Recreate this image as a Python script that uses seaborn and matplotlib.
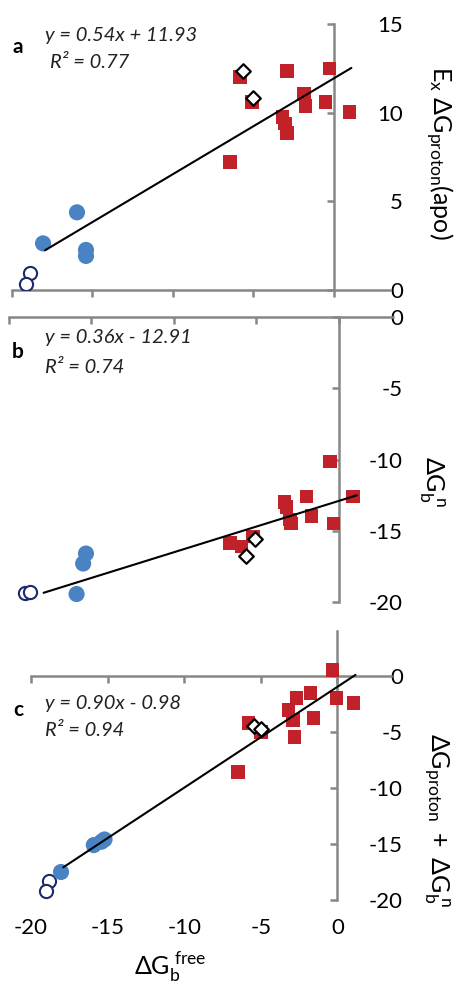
import matplotlib
matplotlib.use("Agg")
import matplotlib.pyplot as plt
import seaborn as sns
import numpy as np

sns.set_theme(style="white")
plt.rcParams["font.family"] = ["Lato", "DejaVu Sans"]
plt.rcParams["axes.unicode_minus"] = False
plt.rcParams["mathtext.fontset"] = "custom"
plt.rcParams["mathtext.rm"] = "Lato"
plt.rcParams["mathtext.it"] = "Lato:italic"
plt.rcParams["mathtext.bf"] = "Lato:bold"
plt.rcParams["mathtext.fallback"] = "stixsans"
plt.rcParams["text.color"] = "black"

RED = "#c1222a"
BLUE = "#4a83c3"
NAVY = "#1c2a6c"
AXIS = "#878787"

# ---------------- data ----------------
X_TICKS = [-20, -15, -10, -5, 0]

# panel a
a_red_x = [-6.46, -5.84, -5.09, -2.92, -3.17, -3.04, -2.92, -1.86, -1.74, -0.50, -0.25, 0.99]
a_red_y = [7.22, 12.0, 10.6, 12.35, 9.76, 9.4, 8.86, 11.05, 10.38, 10.6, 12.5, 10.04]
a_dia_x = [-5.65, -5.03]
a_dia_y = [12.35, 10.8]
a_blue_x = [-18.07, -15.96, -15.4, -15.4]
a_blue_y = [2.63, 4.38, 2.26, 1.92]
a_open_x = [-18.9, -19.1]
a_open_y = [0.97, 0.33]
a_fit = (0.54, 11.93)
a_fit_range = [-17.95, 1.1]
a_yticks = [0, 5, 10, 15]
a_eq = ["y = 0.54x + 11.93", "R² = 0.77"]

# panel b
b_red_x = [-0.52, 0.88, -1.94, -3.27, -3.15, -1.64, -2.95, -2.88, -0.30, -6.6, -5.9, -5.2]
b_red_y = [-10.15, -12.6, -12.6, -13.0, -13.35, -13.98, -14.2, -14.5, -14.5, -15.85, -16.1, -15.4]
b_dia_x = [-5.09, -5.64]
b_dia_y = [-15.6, -16.8]
b_blue_x = [-15.33, -15.5, -15.9]
b_blue_y = [-16.6, -17.3, -19.44]
b_open_x = [-19.0, -18.7]
b_open_y = [-19.4, -19.3]
b_fit = (0.36, -12.91)
b_fit_range = [-17.9, 1.1]
b_yticks = [0, -5, -10, -15, -20]
b_eq = ["y = 0.36x - 12.91", "R² = 0.74"]

# panel c
c_red_x = [-0.33, -0.07, 1.05, -1.76, -2.68, -3.2, -2.9, -1.57, -2.81, -6.47, -5.8, -4.97]
c_red_y = [0.54, -1.96, -2.41, -1.52, -1.96, -3.04, -3.93, -3.75, -5.45, -8.6, -4.2, -4.99]
c_dia_x = [-5.44, -4.97]
c_dia_y = [-4.46, -4.73]
c_blue_x = [-18.04, -15.9, -15.4, -15.2]
c_blue_y = [-17.5, -15.1, -14.8, -14.6]
c_open_x = [-18.8, -19.0]
c_open_y = [-18.3, -19.2]
c_fit = (0.90, -0.98)
c_fit_range = [-17.9, 1.18]
c_yticks = [0, -5, -10, -15, -20]
c_eq = ["y = 0.90x - 0.98", "R² = 0.94"]

W, H = 460, 984
fig = plt.figure(figsize=(W / 100, H / 100), dpi=100)


def add_axes_px(l, r, t, b):
    return fig.add_axes([l / W, 1 - b / H, (r - l) / W, (b - t) / H])


panels = [
    dict(box=(12, 390, 24, 290), xlim=(-20, 3.5), ylim=(0, 15),
         red=(a_red_x, a_red_y), dia=(a_dia_x, a_dia_y), blue=(a_blue_x, a_blue_y),
         open=(a_open_x, a_open_y), fit=a_fit, fr=a_fit_range, yt=a_yticks,
         eq=a_eq, letter="a", lpos=(18, 47), e1=(45, 35), e2=(50, 62),
         ylab=r"$\mathrm{E_x\ \Delta G_{proton}(apo)}$", ylpos=(439, 153), xlab=False),
    dict(box=(9, 393, 317, 602), xlim=(-20, 3.3), ylim=(-20, 0),
         red=(b_red_x, b_red_y), dia=(b_dia_x, b_dia_y), blue=(b_blue_x, b_blue_y),
         open=(b_open_x, b_open_y), fit=b_fit, fr=b_fit_range, yt=b_yticks,
         eq=b_eq, letter="b", lpos=(18, 352), e1=(45, 338), e2=(45, 367),
         ylab=r"$\mathrm{\Delta G_b^{\ n}}$", ylpos=(432, 481), xlab=False),
    dict(box=(31, 391, 631, 900), xlim=(-20, 3.5), ylim=(-20, 4),
         red=(c_red_x, c_red_y), dia=(c_dia_x, c_dia_y), blue=(c_blue_x, c_blue_y),
         open=(c_open_x, c_open_y), fit=c_fit, fr=c_fit_range, yt=c_yticks,
         eq=c_eq, letter="c", lpos=(18, 710), e1=(45, 703), e2=(45, 731),
         ylab=r"$\mathrm{\Delta G_{proton}\ +\ \Delta G_b^{\ n}}$", ylpos=(436, 820), xlab=True),
]

for p in panels:
    l, r, t, b = p["box"]
    ax = add_axes_px(l, r, t, b)
    ax.set_xlim(*p["xlim"])
    ax.set_ylim(*p["ylim"])

    sns.scatterplot(x=p["open"][0], y=p["open"][1], ax=ax, marker="o", s=90,
                    facecolor="white", edgecolor=NAVY, linewidth=1.5, zorder=3)
    sns.scatterplot(x=p["blue"][0], y=p["blue"][1], ax=ax, marker="o", s=135,
                    color=BLUE, edgecolor="none", linewidth=0, zorder=3)
    sns.scatterplot(x=p["red"][0], y=p["red"][1], ax=ax, marker="s", s=95,
                    color=RED, edgecolor="none", linewidth=0, zorder=3)
    sns.scatterplot(x=p["dia"][0], y=p["dia"][1], ax=ax, marker="D", s=55,
                    facecolor="white", edgecolor="black", linewidth=1.6, zorder=5)
    fx = np.array(p["fr"])
    sns.lineplot(x=fx, y=p["fit"][0] * fx + p["fit"][1], ax=ax, color="black",
                 linewidth=1.5, zorder=4)

    for side in ["top", "right"]:
        ax.spines[side].set_visible(False)
    for side in ["left", "bottom"]:
        ax.spines[side].set_position(("data", 0))
        ax.spines[side].set_color(AXIS)
        ax.spines[side].set_linewidth(1.8)
        ax.spines[side].set_zorder(1)
    ax.set_xticks(X_TICKS)
    ax.set_yticks(p["yt"])
    ax.tick_params(axis="both", which="major", bottom=True, left=True, length=5,
                   width=1.8, color=AXIS, labelbottom=False, labelleft=False,
                   direction="out")
    ax.set_xlabel("")
    ax.set_ylabel("")
    ax.patch.set_alpha(0)

    sec = ax.secondary_yaxis("right")
    sec.set_yticks(p["yt"])
    sec.spines["right"].set_visible(False)
    sec.tick_params(length=0, pad=(403 - r) * 0.72, labelsize=16, labelcolor="black")
    for lbl in sec.get_yticklabels():
        lbl.set_horizontalalignment("right")

    if p["xlab"]:
        secx = ax.secondary_xaxis("bottom")
        secx.set_xticks(X_TICKS)
        secx.spines["bottom"].set_visible(False)
        secx.tick_params(length=0, pad=13, labelsize=16, labelcolor="black")

    fig.text(p["lpos"][0] / W, 1 - p["lpos"][1] / H, p["letter"], fontsize=15,
             fontweight="bold", ha="center", va="center")
    fig.text(p["e1"][0] / W, 1 - p["e1"][1] / H, p["eq"][0], fontsize=14.5,
             fontstyle="italic", ha="left", va="center", color="#222222")
    fig.text(p["e2"][0] / W, 1 - p["e2"][1] / H, p["eq"][1], fontsize=14.5,
             fontstyle="italic", ha="left", va="center", color="#222222")
    fig.text(p["ylpos"][0] / W, 1 - p["ylpos"][1] / H, p["ylab"], fontsize=18,
             rotation=-90, ha="center", va="center")

fig.text(170 / W, 1 - 967 / H, r"$\mathrm{\Delta G_b^{\ free}}$", fontsize=18,
         ha="center", va="center")

fig.savefig("out.png", dpi=100)
